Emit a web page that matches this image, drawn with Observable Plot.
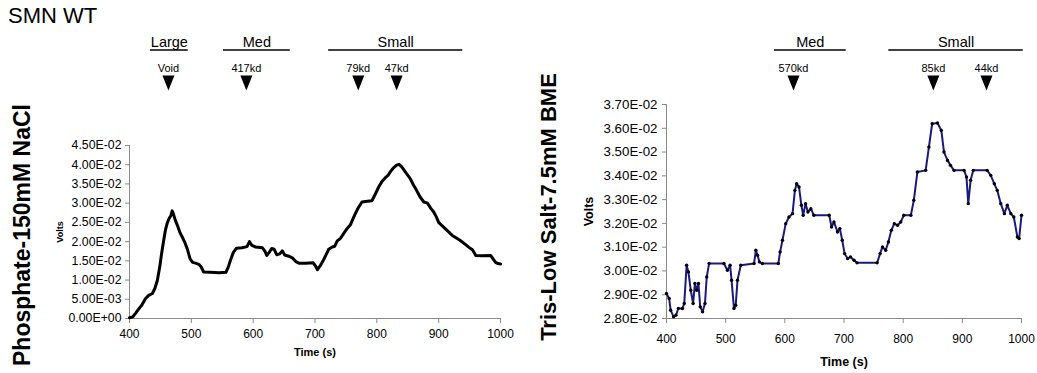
<!DOCTYPE html>
<html>
<head>
<meta charset="utf-8">
<script src="https://cdn.jsdelivr.net/npm/d3@7"></script>
<script src="https://cdn.jsdelivr.net/npm/@observablehq/plot@0.6"></script>
<style>
  body { margin: 0; background: #fff; font-family: "Liberation Sans", Arial, sans-serif; }
  #wrap { position: relative; width: 1037px; height: 373px; overflow: hidden; background: #fff; }
  #title { position: absolute; left: 8px; top: 3px; font-size: 22px; color: #000; white-space: nowrap; }
  #left { position: absolute; left: 0; top: 0; }
  #right { position: absolute; left: 520px; top: 0; }
</style>
</head>
<body>
<div id="wrap">
  <div id="left"></div>
  <div id="right"></div>
  <div id="title">SMN WT</div>
</div>
<script>
// ---------- Data ----------
const xTicks = [400, 500, 600, 700, 800, 900, 1000];

// Panel 1: Phosphate-150mM NaCl
const phosTime = [400,405,410,415,420,426,431,437,441,445,449,452,455,458,461,464,467,469,471,474,478,482,486,490,494,498,502,507,512,516,520,530,545,556,560,564,568,573,582,590,594,598,604,615,619,622,626,630,634,638,643,647,651,658,664,669,674,685,697,701,704,708,713,718,722,728,732,736,741,746,751,757,761,765,770,776,785,792,797,803,808,813,818,822,827,832,836,840,844,849,854,859,864,870,876,882,887,892,896,900,905,911,917,922,928,935,942,949,955,960,970,984,988,992,996,1000];
const phosVolts = [0.0002,0.0004,0.0014,0.0025,0.0035,0.0052,0.0060,0.0065,0.0078,0.0099,0.0135,0.0170,0.0200,0.0229,0.0248,0.0260,0.0268,0.0280,0.0272,0.0256,0.0240,0.0222,0.0210,0.0196,0.0178,0.0155,0.0146,0.0144,0.0141,0.0134,0.0121,0.0120,0.0119,0.0120,0.0135,0.0155,0.0172,0.0183,0.0184,0.0187,0.0200,0.0190,0.0186,0.0184,0.0175,0.0164,0.0172,0.0182,0.0180,0.0166,0.0168,0.0176,0.0165,0.0162,0.0157,0.0148,0.0144,0.0144,0.0145,0.0136,0.0127,0.0136,0.0150,0.0166,0.0180,0.0186,0.0188,0.0202,0.0208,0.0220,0.0232,0.0243,0.0258,0.0272,0.0288,0.0303,0.0305,0.0306,0.0322,0.0342,0.0356,0.0365,0.0372,0.0382,0.0392,0.0399,0.0401,0.0395,0.0386,0.0375,0.0364,0.0348,0.0334,0.0316,0.0303,0.0300,0.0287,0.0277,0.0265,0.0250,0.0242,0.0233,0.0224,0.0216,0.0210,0.0203,0.0194,0.0185,0.0178,0.0164,0.0163,0.0164,0.0155,0.0146,0.0143,0.0142];
const phosYTicks = [0, 0.005, 0.010, 0.015, 0.020, 0.025, 0.030, 0.035, 0.040, 0.045];
const phosGroupNames = ["Large", "Med", "Small"];
const phosGroupStart = [434, 552, 722];
const phosGroupEnd = [495, 660, 939];
const phosMarkerLabels = ["Void", "417kd", "79kd", "47kd"];
const phosMarkerTime = [463, 589, 770, 832];

// Panel 2: Tris-Low Salt-7.5mM BME
const trisTime = [400,404.5,407,412,416,420,427,430,434,437,441,445,448,451,454,457,461,465,468,472,497,503,507.5,510,514,517,520,525.5,548,551,554,557,562,589,592,596,601.5,607,613,617,620,624,628,631,635,639,644,649,675,679,683,689,693,697,701,706,711,717,722,756,761,765,770.5,775,780,785,790.5,796,801,813,818,824,838,843.5,849,858,864.5,869,875,880,886,903,907,910,914,918.5,942,948,954,959,965,971,976,982,987,993,996,1000];
const trisVolts = [0.02905,0.02884,0.02835,0.02807,0.02814,0.02842,0.02842,0.02863,0.03024,0.02996,0.02919,0.02863,0.02947,0.02919,0.02947,0.02849,0.02828,0.02863,0.02975,0.03031,0.03031,0.03003,0.03024,0.02961,0.02842,0.02856,0.02961,0.03024,0.03031,0.03087,0.03066,0.03038,0.03031,0.03031,0.03080,0.03129,0.03199,0.03227,0.03241,0.03339,0.03367,0.03353,0.03276,0.03234,0.03283,0.03248,0.03262,0.03234,0.03234,0.03185,0.03206,0.03164,0.03178,0.03129,0.03073,0.03052,0.03059,0.03045,0.03034,0.03034,0.03073,0.03101,0.03087,0.03122,0.03171,0.03199,0.03192,0.03206,0.03234,0.03234,0.03297,0.03416,0.03423,0.03521,0.03619,0.03622,0.03591,0.03500,0.03465,0.03444,0.03423,0.03423,0.03395,0.03283,0.03381,0.03423,0.03423,0.03402,0.03367,0.03339,0.03283,0.03241,0.03276,0.03241,0.03227,0.03143,0.03136,0.03234];
const trisYTicks = [0.028, 0.029, 0.030, 0.031, 0.032, 0.033, 0.034, 0.035, 0.036, 0.037];
const trisGroupNames = ["Med", "Small"];
const trisGroupStart = [582.5, 775.7];
const trisGroupEnd = [703.7, 1002.9];
const trisMarkerLabels = ["570kd", "85kd", "44kd"];
const trisMarkerTime = [614.6, 851, 940.8];

// ---------- Helpers ----------
function sci(v) {
  if (Math.abs(v) < 1e-12) return "0.00E+00";
  let e = Math.floor(Math.log10(Math.abs(v)) + 1e-9);
  let s = (v / Math.pow(10, e)).toFixed(2);
  if (Math.abs(parseFloat(s)) >= 10) { e += 1; s = (v / Math.pow(10, e)).toFixed(2); }
  return s + "E" + (e < 0 ? "-" : "+") + String(Math.abs(e)).padStart(2, "0");
}

const triDown = {
  draw(ctx) {
    ctx.moveTo(-6, -7.5);
    ctx.lineTo(6, -7.5);
    ctx.lineTo(0, 7.5);
    ctx.closePath();
  }
};

const FONT = "Liberation Sans, Arial, Helvetica, sans-serif";
const AXIS = "#8a8a8a";

function panel(cfg) {
  const data = cfg.time.map((t, i) => ({t, v: cfg.volts[i]}));
  const groups = cfg.groupNames.map((name, i) => ({name, start: cfg.groupStart[i], end: cfg.groupEnd[i]}));
  const markers = cfg.markerLabels.map((label, i) => ({label, t: cfg.markerTime[i]}));
  const yDomain = [cfg.yTicks[0], cfg.yTicks[cfg.yTicks.length - 1]];
  const L = cfg.layout;
  const T = {textAnchor: "middle", lineAnchor: "middle", fill: "black"};
  const marks = [
    Plot.ruleX([400], {stroke: AXIS}),
    Plot.ruleY([yDomain[0]], {stroke: AXIS}),
    Plot.axisY({ticks: cfg.yTicks, tickFormat: sci, tickSize: 4, tickPadding: L.yPad, stroke: AXIS, fill: "black", fontSize: L.yFont, label: null}),
    Plot.axisX({ticks: xTicks, tickFormat: d => String(d), tickSize: 5, tickPadding: L.xPad, stroke: AXIS, fill: "black", fontSize: 12, label: null}),
    Plot.text(["Time (s)"], {...T, frameAnchor: "bottom", dy: L.timeDy, fontWeight: "bold", fontSize: L.timeFont}),
    Plot.text(["Volts"], {...T, frameAnchor: "left", dx: L.voltsDx, rotate: -90, fontWeight: "bold", fontSize: L.voltsFont}),
    Plot.text([cfg.bigLabel], {...T, frameAnchor: "left", dx: L.bigDx, dy: L.bigDy, rotate: -90, fontWeight: "bold", fontSize: L.bigFont}),
    Plot.text(groups, {...T, x: d => (d.start + d.end) / 2, text: "name", frameAnchor: "top", dy: L.groupTextDy, fontSize: 14.5}),
    Plot.ruleY(groups, {x1: "start", x2: "end", y: () => yDomain[1], dy: L.groupRuleDy, stroke: "black", strokeWidth: 1.6}),
    Plot.text(markers, {...T, x: "t", text: "label", frameAnchor: "top", dy: L.markTextDy, fontSize: 11}),
    Plot.dot(markers, {x: "t", frameAnchor: "top", dy: L.triDy, symbol: triDown, fill: "black", r: 5})
  ].concat(cfg.seriesMarks(data));
  return Plot.plot({
    width: L.width, height: 373,
    marginLeft: L.left, marginRight: L.right, marginTop: L.top, marginBottom: L.bottom,
    style: {fontFamily: FONT, background: "white", color: "black", overflow: "visible"},
    x: {domain: [400, 1000]},
    y: {domain: yDomain},
    marks
  });
}

const left = panel({
  time: phosTime, volts: phosVolts, yTicks: phosYTicks,
  groupNames: phosGroupNames, groupStart: phosGroupStart, groupEnd: phosGroupEnd,
  markerLabels: phosMarkerLabels, markerTime: phosMarkerTime,
  bigLabel: "Phosphate-150mM NaCl",
  layout: {width: 520, left: 129, right: 20, top: 145, bottom: 55,
    yPad: 4, yFont: 12.3, xPad: 5.7, timeDy: 34, timeFont: 11, voltsDx: -69, voltsFont: 9,
    bigDx: -107, bigDy: 3, bigFont: 23,
    groupTextDy: -103.5, groupRuleDy: -95.5, markTextDy: -77, triDy: -62.5},
  seriesMarks: data => [
    Plot.line(data, {x: "t", y: "v", stroke: "black", strokeWidth: 3, strokeLinejoin: "round"})
  ]
});

const right = panel({
  time: trisTime, volts: trisVolts, yTicks: trisYTicks,
  groupNames: trisGroupNames, groupStart: trisGroupStart, groupEnd: trisGroupEnd,
  markerLabels: trisMarkerLabels, markerTime: trisMarkerTime,
  bigLabel: "Tris-Low Salt-7.5mM BME",
  layout: {width: 517, left: 146, right: 16, top: 104, bottom: 55,
    yPad: 5, yFont: 13.3, xPad: 10.7, timeDy: 43, timeFont: 12.5, voltsDx: -78, voltsFont: 12.5,
    bigDx: -118, bigDy: -4.5, bigFont: 22,
    groupTextDy: -62.5, groupRuleDy: -54.5, markTextDy: -36, triDy: -21.5},
  seriesMarks: data => [
    Plot.line(data, {x: "t", y: "v", stroke: "#1a1a7a", strokeWidth: 2}),
    Plot.dot(data, {x: "t", y: "v", r: 1.7, fill: "black"})
  ]
});

document.getElementById("left").appendChild(left);
document.getElementById("right").appendChild(right);
</script>
</body>
</html>
